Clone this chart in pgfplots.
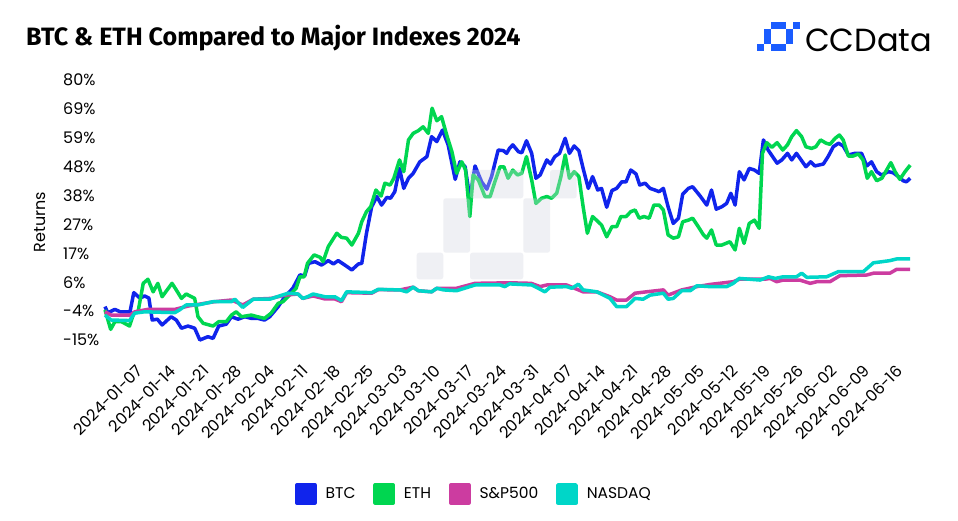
\documentclass[border=0pt]{standalone}
\usepackage{pgfplots}
\pgfplotsset{compat=1.18}
\usepackage{fontspec}
\setmainfont{Poppins}
\newfontfamily\titlefont{Fira Sans}

\definecolor{btc}{RGB}{16,36,236}
\definecolor{eth}{RGB}{0,214,80}
\definecolor{spx}{RGB}{204,60,160}
\definecolor{ndq}{RGB}{0,214,200}
\definecolor{wmark}{RGB}{211,213,224}
\definecolor{logoblue}{RGB}{26,92,255}

\begin{document}
\begin{tikzpicture}
\path[use as bounding box] (0,0) rectangle (958pt,521pt);
\fill[white] (0,0) rectangle (958pt,521pt);

% title and logo
\node[anchor=base west, inner sep=0pt, font=\titlefont\bfseries\fontsize{25.1}{28}\selectfont]
  at (26pt,475pt) {BTC \& ETH Compared to Major Indexes 2024};
\begin{scope}[logoblue]
  \fill (757pt,470.2pt) rectangle (764.2pt,477.4pt);
  \fill (764.2pt,477.4pt) rectangle (771.4pt,491.8pt);
  \fill (771.4pt,491.8pt) rectangle (785.8pt,499pt);
  \fill (771.4pt,470.2pt) rectangle (785.8pt,477.4pt);
  \fill (785.8pt,477.4pt) rectangle (793pt,491.8pt);
  \fill (793pt,491.8pt) rectangle (800.2pt,499pt);
\end{scope}
\node[anchor=base west, inner sep=0pt, font=\fontsize{32}{36}\selectfont]
  at (805pt,469pt) {CCData};

\begin{axis}[
  at={(105pt,181pt)}, anchor=south west,
  scale only axis, width=805.2pt, height=260pt,
  xmin=0, xmax=170.6, ymin=-15, ymax=80,
  clip=false,
  axis line style={draw=none},
  tick style={draw=none},
  ytick={-15,-4.444,6.111,16.667,27.222,37.778,48.333,58.889,69.444,80},
  yticklabels={-15\%,-4\%,6\%,17\%,27\%,38\%,48\%,59\%,69\%,80\%},
  yticklabel style={anchor=west, inner sep=0pt, xshift=-42pt},
  xtick={6,13,...,167},
  xticklabels={2024-01-07,2024-01-14,2024-01-21,2024-01-28,2024-02-04,2024-02-11,
    2024-02-18,2024-02-25,2024-03-03,2024-03-10,2024-03-17,2024-03-24,2024-03-31,
    2024-04-07,2024-04-14,2024-04-21,2024-04-28,2024-05-05,2024-05-12,2024-05-19,
    2024-05-26,2024-06-02,2024-06-09,2024-06-16},
  xticklabel style={xshift=6.5pt, yshift=-28pt, rotate=45, anchor=east, inner sep=0pt},
  ticklabel style={font=\fontsize{16}{19}\selectfont},
  ylabel={Returns},
  ylabel style={at={(axis description cs:-0.0807,0.454)}, anchor=center,
    font=\fontsize{16}{19}\selectfont},
  every axis plot/.append style={line width=3.5pt, line join=round},
  legend columns=4,
  legend image code/.code={\fill[#1] (0pt,-9pt) rectangle (18pt,9pt);},
  legend style={at={(0.457,-0.592)}, anchor=center, draw=none,
    font=\fontsize{15.5}{18}\selectfont, nodes={inner sep=0pt},
    /tikz/every odd column/.append style={column sep=9pt},
    /tikz/every even column/.append style={column sep=18pt}},
]
\addplot[color=btc] coordinates {(0,-2.8)(0.6,-5.1)(2.1,-3.8)(3.2,-4.7)(5.3,-4.7)(6.1,2.3)(7.4,0.3)(8.4,1.1)(9.3,0.3)(10.0,-7.7)(11.1,-7.4)(12.1,-9.5)(14.0,-6.5)(15.1,-7.7)(16.2,-10.7)(17.6,-9.9)(19.0,-10.7)(20.1,-15)(21.8,-13.8)(22.9,-14.4)(24.1,-9.9)(25.7,-9.2)(26.8,-6.5)(28.2,-7.4)(29.6,-6.5)(31.0,-7.1)(32.4,-7.1)(33.8,-7.7)(34.9,-6.5)(36.7,-2.8)(38.1,0.8)(39.8,3.9)(41.3,8.8)(42.3,8.4)(43.1,13.0)(44.5,13.6)(45.9,12.4)(47.3,14.0)(48.4,12.8)(49.4,14.0)(50.8,12.4)(52.3,10.6)(53.7,12.8)(54.4,13.0)(55.4,24.0)(56.5,33.7)(57.6,37.4)(58.6,34.3)(59.7,37.1)(60.5,36.8)(61.4,39.2)(62.4,47.7)(63.3,40.4)(64.3,44.1)(65.3,45.9)(66.7,50.1)(68.2,52.0)(69.2,59.3)(70.3,57.5)(71.5,61.7)(72.7,56.3)(74.2,43.7)(75.2,50.1)(76.3,48.3)(77.3,36.8)(78.4,48.6)(79.8,42.8)(80.9,40.1)(81.9,44.7)(83.3,54.4)(84.4,54.2)(85.1,53.2)(85.7,55.0)(86.4,56.3)(87.6,53.8)(88.3,53.4)(89.3,57.8)(90.4,53.2)(91.3,44.1)(92.2,45.3)(93.6,50.8)(94.4,49.3)(95.3,52.0)(96.3,53.2)(97.5,58.7)(98.4,53.2)(99.4,55.9)(100.4,54.2)(101.3,47.7)(102.4,40.4)(103.3,44.7)(104.4,39.8)(105.2,40.4)(106.3,33.5)(107.4,39.6)(108.4,40.4)(109.5,42.8)(110.4,42.8)(111.4,47.1)(112.5,45.7)(113.3,41.6)(114.4,42.3)(115.5,40.4)(116.5,39.8)(117.4,39.2)(118.3,40.4)(119.3,33.7)(120.4,27.6)(121.5,29.5)(122.4,38.3)(123.6,40.4)(124.5,41.0)(126.1,37.6)(127.5,34.3)(128.5,39.8)(129.5,32.8)(130.7,33.7)(131.7,34.9)(132.6,38.6)(133.5,34.3)(134.4,46.5)(135.4,43.5)(136.5,47.7)(137.6,47.1)(138.6,45.9)(139.5,58.1)(140.5,54.4)(142.4,49.6)(143.4,50.8)(144.6,53.2)(145.5,50.8)(146.5,53.2)(148.5,48.3)(149.5,50.1)(150.4,48.6)(152.2,49.3)(153.2,52.0)(154.3,55.6)(155.4,56.9)(156.4,55.9)(157.5,52.6)(158.9,53.2)(160.3,53.2)(161.4,48.6)(162.4,50.1)(163.5,46.5)(164.5,45.3)(166.0,46.5)(167.0,46.1)(168.1,44.7)(169.1,43.2)(169.8,42.8)(170.6,44.1)};
\addlegendentry{BTC}
\addplot[color=eth] coordinates {(0,-4.0)(1.2,-11.1)(2.1,-8.3)(3.5,-8.3)(5.2,-9.9)(6.1,-5.2)(7.0,-4.7)(8.1,5.7)(9.1,7.2)(10.2,2.6)(11.2,5.7)(12.1,0.8)(14.2,5.7)(15.1,3.3)(16.2,0.2)(17.2,1.8)(19.0,0.2)(19.7,-6.5)(20.8,-8.9)(22.9,-9.9)(24.1,-8.3)(25.7,-8.3)(26.8,-5.9)(27.8,-4.7)(28.9,-6.5)(31.0,-5.9)(32.3,-6.5)(33.8,-7.1)(35.2,-5.2)(36.7,-1.6)(37.7,-1.0)(39.5,2.1)(40.5,3.9)(41.3,8.1)(42.2,8.1)(42.9,13.0)(44.3,16.1)(45.6,15.2)(46.2,13.6)(47.3,19.1)(49.1,24.0)(50.1,22.5)(51.2,22.2)(52.3,19.7)(53.7,24.0)(54.4,28.2)(55.4,31.9)(56.3,33.7)(57.4,39.8)(58.5,37.6)(59.3,42.3)(60.4,41.6)(61.2,44.1)(62.4,50.8)(63.3,46.5)(64.3,58.1)(65.3,60.5)(66.4,61.5)(67.4,62.9)(68.5,60.5)(69.3,69.7)(70.3,65.1)(71.3,66.6)(72.4,59.9)(73.5,53.8)(74.5,45.9)(75.6,50.1)(76.4,47.1)(77.3,30.1)(78.0,45.3)(79.1,43.5)(80.5,37.4)(81.6,37.4)(82.6,42.8)(83.7,48.3)(84.5,48.3)(85.4,44.1)(86.4,47.1)(87.4,45.3)(88.3,45.9)(89.3,52.0)(90.4,43.5)(91.3,34.9)(92.5,36.8)(93.6,37.4)(94.6,36.8)(95.7,38.6)(96.6,44.7)(97.5,52.6)(98.4,44.1)(99.4,46.5)(100.4,44.7)(101.3,33.7)(102.2,24.0)(103.3,30.1)(104.5,28.2)(105.2,27.0)(106.3,22.7)(107.4,26.4)(108.4,26.4)(109.3,30.1)(110.4,30.1)(111.4,31.9)(112.3,32.5)(113.2,29.5)(114.2,30.1)(115.3,29.5)(116.3,34.3)(117.4,34.3)(118.3,32.5)(119.3,23.4)(120.4,22.2)(121.5,22.7)(122.4,28.2)(123.6,28.8)(124.5,29.5)(125.7,26.4)(126.8,23.4)(127.5,22.2)(128.5,25.2)(129.5,19.7)(130.7,19.7)(132.4,20.9)(133.5,17.9)(134.4,25.8)(135.4,20.3)(136.5,27.6)(137.6,28.8)(138.6,25.8)(139.3,53.2)(140.2,57.1)(141.3,55.4)(142.4,57.1)(143.6,54.4)(144.6,56.3)(145.5,59.3)(146.5,61.5)(147.6,59.3)(148.5,55.6)(149.7,55.0)(150.6,55.6)(151.6,58.1)(152.8,56.9)(153.6,56.5)(154.7,58.7)(155.6,59.9)(156.4,58.1)(157.5,52.2)(158.5,52.2)(159.6,53.0)(160.6,50.8)(161.5,44.1)(162.4,46.5)(163.5,43.2)(164.6,44.1)(165.6,47.1)(166.5,49.8)(167.4,46.5)(168.4,43.7)(169.5,46.5)(170.6,48.9)};
\addlegendentry{ETH}
\addplot[color=spx] coordinates {(0,-4.7)(1.3,-5.9)(5.3,-5.9)(6.3,-4.7)(9.1,-3.8)(14.8,-3.8)(17.6,-2.6)(21.1,-1.6)(23.2,-1.0)(26.8,-0.4)(29.2,-2.2)(31.4,-0.1)(35.2,0.2)(38.1,1.4)(40.9,1.8)(41.9,0.2)(44.1,1.1)(46.6,0)(48.7,0)(50.1,-1.0)(51.2,2.3)(56.5,2.1)(57.9,3.4)(62.5,3.3)(65.3,4.3)(66.4,3.0)(69.2,2.6)(70.3,3.9)(74.5,3.9)(78.4,5.7)(85.7,5.9)(90.3,5.7)(92.2,4.5)(93.6,5.1)(97.8,5.1)(101.3,2.6)(104.2,2.6)(107.0,0.8)(108.4,-0.4)(110.5,-0.4)(112.3,2.1)(114.7,2.6)(118.3,3.3)(119.3,1.4)(122.2,3.3)(125.4,4.5)(128.2,5.3)(133.1,6.3)(134.4,7.2)(139.8,7.2)(140.9,7.5)(142.3,6.3)(143.7,6.9)(147.2,6.9)(149.4,5.7)(150.8,6.3)(153.6,6.3)(155.7,8.5)(161.4,8.75)(162.8,9.4)(166.3,9.4)(167.7,10.8)(170.6,10.8)};
\addlegendentry{S\&P500}
\addplot[color=ndq] coordinates {(0,-5.9)(1.3,-7.7)(5.2,-7.9)(6.3,-5.2)(8.4,-4.7)(14.8,-5.0)(15.8,-4.0)(17.2,-2.2)(19.7,-2.2)(22.9,-1.0)(26.8,-1.0)(27.5,-0.1)(29.2,-3.1)(31.4,-0.1)(34.9,-0.1)(37.0,1.1)(38.8,2.1)(40.9,1.8)(41.9,0.2)(42.9,0.8)(44.1,1.8)(46.6,0.8)(48.7,0.8)(50.1,-0.6)(51.2,2.6)(56.5,2.3)(57.9,3.5)(62.5,3.3)(63.9,2.6)(65.3,4.3)(66.4,3.0)(69.2,2.6)(70.3,3.9)(71.7,3.3)(74.5,3.0)(78.4,5.1)(83.7,5.1)(84.7,4.5)(85.7,5.5)(90.4,5.1)(91.8,3.9)(93.2,2.6)(94.3,4.3)(97.8,4.5)(98.9,3.9)(100.3,5.4)(101.3,3.3)(104.2,2.6)(107.0,0.2)(108.4,-2.8)(110.5,-2.8)(112.3,0.2)(114.0,-0.1)(115.5,1.4)(118.3,2.1)(119.3,-0.1)(120.4,0.2)(122.2,3.0)(124.0,3.0)(125.4,4.8)(128.2,4.5)(131.7,4.5)(133.1,5.7)(134.4,7.5)(138.8,6.9)(140.6,8.1)(142.0,7.5)(143.7,8.1)(146.5,8.1)(147.6,9.4)(148.7,7.9)(152.9,8.1)(155.4,10.0)(160.7,10.0)(162.8,13.2)(164.6,13.6)(166.3,14.0)(167.7,14.6)(170.6,14.6)};
\addlegendentry{NASDAQ}
\end{axis}

% watermark, laid translucently over the lines
\begin{scope}[fill=wmark, fill opacity=0.35, rounded corners=2.5pt]
  \fill (416.7pt,241.7pt) rectangle (443.3pt,268.3pt);
  \fill (443.3pt,268.3pt) rectangle (470pt,322.7pt);
  \fill (470pt,322.7pt) rectangle (523.3pt,351pt);
  \fill (470pt,241.7pt) rectangle (523.3pt,268.3pt);
  \fill (523.3pt,268.3pt) rectangle (550pt,322.7pt);
  \fill (550pt,322.7pt) rectangle (576.7pt,351pt);
\end{scope}
\end{tikzpicture}
\end{document}
